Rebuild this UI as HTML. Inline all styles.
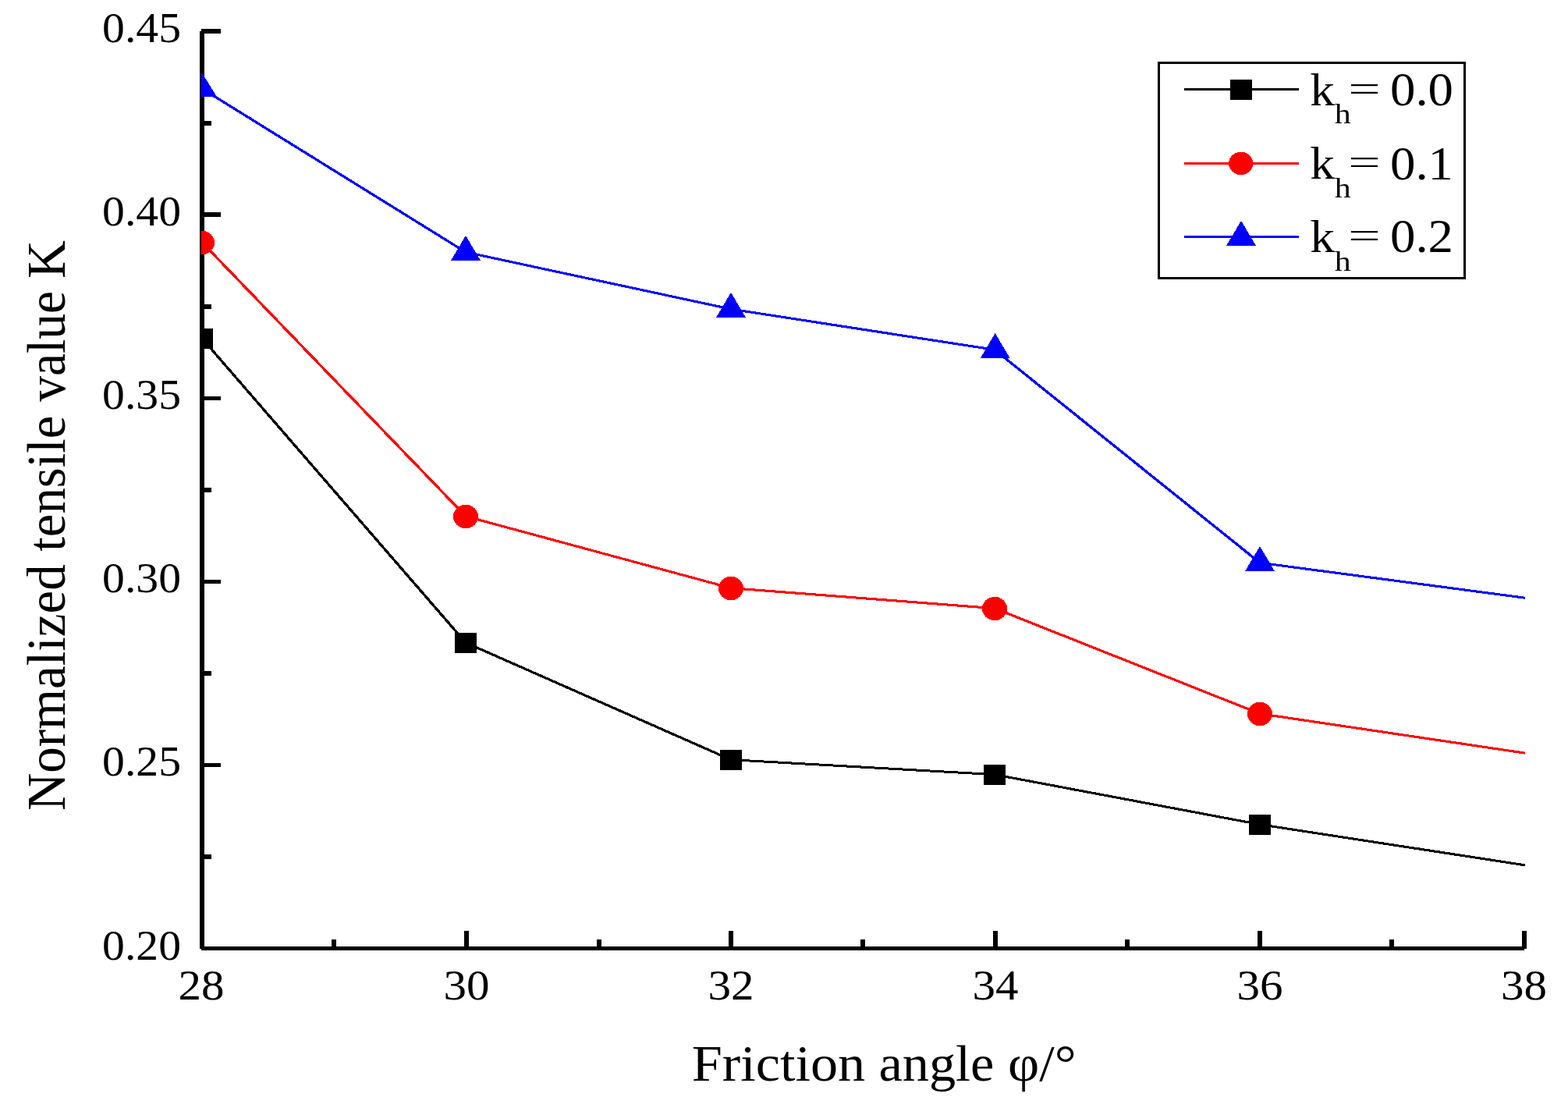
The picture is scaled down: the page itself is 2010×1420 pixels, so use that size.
<!DOCTYPE html>
<html lang="en"><head><meta charset="utf-8"><title>Normalized tensile value K vs friction angle</title>
<style>html,body{margin:0;padding:0;background:#fff;overflow:hidden}svg{display:block}text{font-family:'Liberation Serif','DejaVu Serif',serif;fill:#000;white-space:pre}</style></head><body>
<svg width="2010" height="1420" viewBox="0 0 2010 1420">
<rect x="0" y="0" width="2010" height="1420" fill="#fff"/>
<g id="axes" fill="#000" shape-rendering="crispEdges">
<rect x="256" y="40" width="6" height="1176"/>
<rect x="258" y="1213" width="1696" height="5"/>
<rect x="258" y="37" width="25" height="6"/>
<rect x="258" y="272" width="25" height="6"/>
<rect x="258" y="508" width="25" height="5"/>
<rect x="258" y="743" width="25" height="5"/>
<rect x="258" y="978" width="25" height="5"/>
<rect x="258" y="155" width="13" height="6"/>
<rect x="258" y="390" width="13" height="6"/>
<rect x="258" y="625" width="13" height="6"/>
<rect x="258" y="860" width="13" height="6"/>
<rect x="258" y="1095" width="13" height="6"/>
<rect x="595" y="1193" width="6" height="23"/>
<rect x="934" y="1193" width="6" height="23"/>
<rect x="1273" y="1193" width="6" height="23"/>
<rect x="1612" y="1193" width="6" height="23"/>
<rect x="1951" y="1193" width="6" height="23"/>
<rect x="425" y="1204" width="6" height="12"/>
<rect x="765" y="1204" width="6" height="12"/>
<rect x="1103" y="1204" width="6" height="12"/>
<rect x="1442" y="1204" width="6" height="12"/>
<rect x="1781" y="1204" width="6" height="12"/>
</g>
<defs><clipPath id="plot"><rect x="258" y="30" width="1697" height="1190"/></clipPath></defs>
<g id="series" clip-path="url(#plot)" shape-rendering="crispEdges">
<line x1="259.0" y1="433.65" x2="597.0" y2="823.65" stroke="#000000" stroke-width="3.30"/>
<line x1="597.0" y1="823.65" x2="937.0" y2="973.65" stroke="#000000" stroke-width="3.17"/>
<line x1="937.0" y1="973.65" x2="1275.0" y2="992.65" stroke="#000000" stroke-width="3.02"/>
<line x1="1275.0" y1="992.65" x2="1615.0" y2="1056.65" stroke="#000000" stroke-width="3.07"/>
<line x1="1615.0" y1="1056.65" x2="1955.0" y2="1108.85" stroke="#000000" stroke-width="3.06"/>
<rect x="245.0" y="421.0" width="28" height="26" fill="#000000"/>
<rect x="583.0" y="811.0" width="28" height="26" fill="#000000"/>
<rect x="923.0" y="961.0" width="28" height="26" fill="#000000"/>
<rect x="1261.0" y="980.0" width="28" height="26" fill="#000000"/>
<rect x="1601.0" y="1044.0" width="28" height="26" fill="#000000"/>
<line x1="259.0" y1="310.65" x2="597.0" y2="661.65" stroke="#ff0000" stroke-width="3.30"/>
<line x1="597.0" y1="661.65" x2="937.0" y2="753.65" stroke="#ff0000" stroke-width="3.10"/>
<line x1="937.0" y1="753.65" x2="1275.0" y2="779.65" stroke="#ff0000" stroke-width="3.03"/>
<line x1="1275.0" y1="779.65" x2="1615.0" y2="914.65" stroke="#ff0000" stroke-width="3.15"/>
<line x1="1615.0" y1="914.65" x2="1955.0" y2="965.15" stroke="#ff0000" stroke-width="3.06"/>
<ellipse cx="259.0" cy="311.0" rx="16" ry="15.2" fill="#ff0000"/>
<ellipse cx="597.0" cy="662.0" rx="16" ry="15.2" fill="#ff0000"/>
<ellipse cx="937.0" cy="754.0" rx="16" ry="15.2" fill="#ff0000"/>
<ellipse cx="1275.0" cy="780.0" rx="16" ry="15.2" fill="#ff0000"/>
<ellipse cx="1615.0" cy="915.0" rx="16" ry="15.2" fill="#ff0000"/>
<line x1="259.0" y1="113.65" x2="597.0" y2="323.15" stroke="#0000ff" stroke-width="3.23"/>
<line x1="597.0" y1="323.15" x2="937.0" y2="396.15" stroke="#0000ff" stroke-width="3.08"/>
<line x1="937.0" y1="396.15" x2="1275.0" y2="448.25" stroke="#0000ff" stroke-width="3.06"/>
<line x1="1275.0" y1="448.25" x2="1615.0" y2="721.25" stroke="#0000ff" stroke-width="3.30"/>
<line x1="1615.0" y1="721.25" x2="1955.0" y2="766.25" stroke="#0000ff" stroke-width="3.05"/>
<polygon points="259,93.4 278,124 240,124" fill="#0000ff"/>
<polygon points="597.0,301.9 616.0,334.0 578.0,334.0" fill="#0000ff"/>
<polygon points="937.0,374.9 956.0,407.0 918.0,407.0" fill="#0000ff"/>
<polygon points="1275.7,427.0 1294.7,459.1 1256.7,459.1" fill="#0000ff"/>
<polygon points="1615.0,700.0 1634.0,732.1 1596.0,732.1" fill="#0000ff"/>
</g>
<g id="legend" shape-rendering="crispEdges">
<rect x="1485.5" y="80.5" width="392" height="276" fill="#fff" stroke="#000" stroke-width="3"/>
<rect x="1518" y="113.0" width="147" height="3" fill="#000000"/>
<rect x="1577.0" y="102.0" width="28" height="26" fill="#000000"/>
<rect x="1518" y="208.0" width="147" height="3" fill="#ff0000"/>
<ellipse cx="1590.7" cy="209.4" rx="15.6" ry="14.7" fill="#ff0000"/>
<rect x="1518" y="302.0" width="147" height="3" fill="#0000ff"/>
<polygon points="1591.0,282.9 1610.0,315.0 1572.0,315.0" fill="#0000ff"/>
</g>
<g id="legend-labels" font-size="59.7">
<text><tspan x="1679.37" y="135.10" textLength="31.73" lengthAdjust="spacingAndGlyphs">k</tspan><tspan x="1710.71" y="157.90" font-size="36" textLength="20.97" lengthAdjust="spacingAndGlyphs">h</tspan><tspan x="1728.21" y="128.90" font-size="46" textLength="41.40" lengthAdjust="spacingAndGlyphs">=</tspan><tspan> </tspan><tspan x="1781.95" y="135.30" font-size="61" textLength="81.10" lengthAdjust="spacingAndGlyphs">0.0</tspan></text>
<text><tspan x="1679.37" y="229.30" textLength="31.73" lengthAdjust="spacingAndGlyphs">k</tspan><tspan x="1710.71" y="253.10" font-size="36" textLength="20.97" lengthAdjust="spacingAndGlyphs">h</tspan><tspan x="1728.21" y="223.10" font-size="46" textLength="41.40" lengthAdjust="spacingAndGlyphs">=</tspan><tspan> </tspan><tspan x="1781.95" y="229.50" font-size="61" textLength="81.10" lengthAdjust="spacingAndGlyphs">0.1</tspan></text>
<text><tspan x="1679.37" y="323.20" textLength="31.73" lengthAdjust="spacingAndGlyphs">k</tspan><tspan x="1710.71" y="347.40" font-size="36" textLength="20.97" lengthAdjust="spacingAndGlyphs">h</tspan><tspan x="1728.21" y="317.00" font-size="46" textLength="41.40" lengthAdjust="spacingAndGlyphs">=</tspan><tspan> </tspan><tspan x="1781.95" y="323.40" font-size="61" textLength="81.10" lengthAdjust="spacingAndGlyphs">0.2</tspan></text>
</g>
<g>
<text transform="translate(232.00,54.30) scale(1.0640,1.0000)" font-size="54.20" text-anchor="end">0.45</text>
<text transform="translate(232.00,289.30) scale(1.0640,1.0000)" font-size="54.20" text-anchor="end">0.40</text>
<text transform="translate(232.00,524.30) scale(1.0640,1.0000)" font-size="54.20" text-anchor="end">0.35</text>
<text transform="translate(232.00,759.30) scale(1.0640,1.0000)" font-size="54.20" text-anchor="end">0.30</text>
<text transform="translate(232.00,994.30) scale(1.0640,1.0000)" font-size="54.20" text-anchor="end">0.25</text>
<text transform="translate(232.00,1229.80) scale(1.0640,1.0000)" font-size="54.20" text-anchor="end">0.20</text>
<text transform="translate(258.00,1280.80) scale(1.0890,1.0000)" font-size="54.20" text-anchor="middle">28</text>
<text transform="translate(598.00,1280.80) scale(1.0890,1.0000)" font-size="54.20" text-anchor="middle">30</text>
<text transform="translate(937.00,1280.80) scale(1.0890,1.0000)" font-size="54.20" text-anchor="middle">32</text>
<text transform="translate(1276.00,1280.80) scale(1.0890,1.0000)" font-size="54.20" text-anchor="middle">34</text>
<text transform="translate(1615.00,1280.80) scale(1.0890,1.0000)" font-size="54.20" text-anchor="middle">36</text>
<text transform="translate(1953.50,1280.80) scale(1.0890,1.0000)" font-size="54.20" text-anchor="middle">38</text>
</g>
<text id="x-title" font-size="66"><tspan x="886.77" y="1385.20" textLength="222.50" lengthAdjust="spacingAndGlyphs">Friction</tspan><tspan> </tspan><tspan x="1126.57" y="1385.20" textLength="147.79" lengthAdjust="spacingAndGlyphs">angle</tspan><tspan> </tspan><tspan x="1292.06" y="1385.20" textLength="87.56" lengthAdjust="spacingAndGlyphs">φ/°</tspan></text>
<text id="y-title" font-size="70.7" transform="translate(83.3,0) rotate(-90)"><tspan x="-1039.09" y="0.00" textLength="315.76" lengthAdjust="spacingAndGlyphs">Normalized</tspan><tspan> </tspan><tspan x="-706.71" y="0.00" textLength="174.09" lengthAdjust="spacingAndGlyphs">tensile</tspan><tspan> </tspan><tspan x="-514.80" y="0.00" textLength="141.96" lengthAdjust="spacingAndGlyphs">value</tspan><tspan> </tspan><tspan x="-357.00" y="0.00" textLength="48.89" lengthAdjust="spacingAndGlyphs">K</tspan></text>
</svg></body></html>
